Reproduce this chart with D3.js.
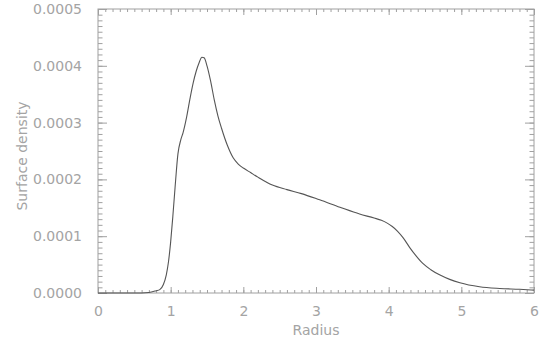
<!DOCTYPE html>
<html>
<head>
<meta charset="utf-8">
<script src="https://cdn.jsdelivr.net/npm/d3@7"></script>
<style>
  html, body { margin: 0; padding: 0; background: #fff; }
  svg { display: block; }
  text { font-family: "DejaVu Sans", sans-serif; fill: #a4a4a4; }
</style>
</head>
<body>
<svg id="chart" width="549" height="339"></svg>
<script>
// Data
const radius = [0, 0.5, 0.7, 0.8, 0.85, 0.9, 0.94, 0.97, 1.0, 1.03, 1.06, 1.1, 1.14, 1.17, 1.22, 1.27, 1.31, 1.35, 1.39, 1.43, 1.46, 1.5, 1.55, 1.6, 1.65, 1.7, 1.78, 1.86, 1.93, 2.0, 2.1, 2.2, 2.4, 2.6, 2.8, 3.05, 3.33, 3.6, 3.8, 3.9, 3.98, 4.05, 4.12, 4.2, 4.29, 4.38, 4.47, 4.58, 4.7, 4.84, 4.98, 5.25, 5.53, 5.8, 6.0];
const density = [0, 0, 0.000001, 0.000004, 0.000006, 0.000015, 0.000032, 0.000055, 0.00009, 0.000135, 0.000185, 0.000245, 0.00027, 0.000282, 0.00031, 0.000345, 0.00037, 0.00039, 0.000405, 0.000415, 0.000414, 0.0004, 0.000373, 0.00034, 0.000312, 0.00029, 0.00026, 0.000238, 0.000227, 0.00022, 0.000212, 0.000204, 0.00019, 0.000182, 0.000175, 0.000164, 0.000151, 0.000139, 0.000132, 0.000128, 0.000123, 0.000117, 0.000109, 0.000097, 0.000080, 0.000065, 0.000052, 0.000041, 0.000032, 0.000024, 0.000018, 0.000011, 0.000008, 0.0000065, 0.000005];
const xTicks = [0, 1, 2, 3, 4, 5, 6];
const yTicks = [0, 0.0001, 0.0002, 0.0003, 0.0004, 0.0005];
const xLabel = "Radius";
const yLabel = "Surface density";

const svg = d3.select("#chart");
const L = 98, R = 534, T = 9, B = 293;
const axisColor = "#a0a0a0";

const x = d3.scaleLinear().domain([0, 6]).range([L, R]);
const y = d3.scaleLinear().domain([0, 0.0005]).range([B, T]);

const minorX = d3.range(0, 60.5).map(i => i / 10);
const minorY = d3.range(0, 50.5).map(i => i * 0.00001);

function styleAxis(g, labels) {
  g.select(".domain").remove();
  g.selectAll("line").attr("stroke", axisColor);
  if (!labels) g.selectAll("text").remove();
  else g.selectAll("text").attr("fill", "#a4a4a4").style("font-size", "14px")
        .style("font-family", "DejaVu Sans, sans-serif");
}

// bottom
svg.append("g").attr("transform", `translate(0,${B})`)
  .call(d3.axisBottom(x).tickValues(minorX).tickSize(-3).tickFormat(""))
  .call(g => styleAxis(g, false));
svg.append("g").attr("transform", `translate(0,${B})`)
  .call(d3.axisBottom(x).tickValues(xTicks).tickSize(-6).tickPadding(13).tickFormat(d3.format("d")))
  .call(g => styleAxis(g, true));
// top
svg.append("g").attr("transform", `translate(0,${T})`)
  .call(d3.axisTop(x).tickValues(minorX).tickSize(-3).tickFormat(""))
  .call(g => styleAxis(g, false));
svg.append("g").attr("transform", `translate(0,${T})`)
  .call(d3.axisTop(x).tickValues(xTicks).tickSize(-6).tickFormat(""))
  .call(g => styleAxis(g, false));
// left
svg.append("g").attr("transform", `translate(${L},0)`)
  .call(d3.axisLeft(y).tickValues(minorY).tickSize(-4.5).tickFormat(""))
  .call(g => styleAxis(g, false));
svg.append("g").attr("transform", `translate(${L},0)`)
  .call(d3.axisLeft(y).tickValues(yTicks).tickSize(-9).tickPadding(16).tickFormat(d3.format(".4f")))
  .call(g => styleAxis(g, true));
// right
svg.append("g").attr("transform", `translate(${R},0)`)
  .call(d3.axisRight(y).tickValues(minorY).tickSize(-4.5).tickFormat(""))
  .call(g => styleAxis(g, false));
svg.append("g").attr("transform", `translate(${R},0)`)
  .call(d3.axisRight(y).tickValues(yTicks).tickSize(-9).tickFormat(""))
  .call(g => styleAxis(g, false));

// frame
svg.append("rect").attr("x", L).attr("y", T).attr("width", R - L).attr("height", B - T)
  .attr("fill", "none").attr("stroke", axisColor).attr("stroke-width", 1);

// curve
const pts = radius.map((r, i) => [r, density[i]]);
svg.append("path").datum(pts)
  .attr("fill", "none").attr("stroke", "#555").attr("stroke-width", 1.1)
  .attr("d", d3.line().x(d => x(d[0])).y(d => y(d[1])).curve(d3.curveMonotoneX));

// labels
svg.append("text").attr("x", (L + R) / 2).attr("y", 335).attr("text-anchor", "middle")
  .style("font-size", "14px").text(xLabel);
svg.append("text").attr("transform", `translate(27,${(T + B) / 2 + 5}) rotate(-90)`)
  .attr("text-anchor", "middle").style("font-size", "14px").text(yLabel);
</script>
</body>
</html>
